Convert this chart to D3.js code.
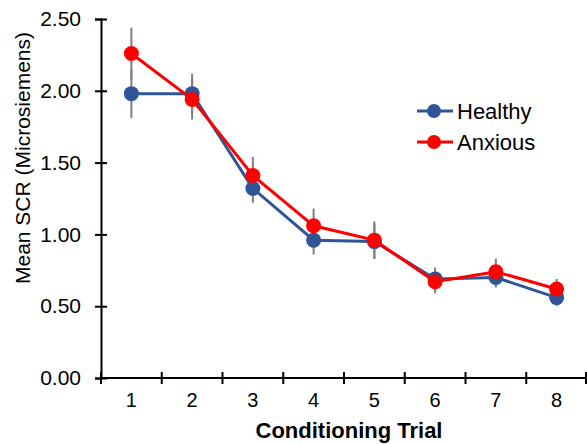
<!DOCTYPE html>
<html>
<head>
<meta charset="utf-8">
<script src="https://d3js.org/d3.v7.min.js"></script>
<style>
  body { margin: 0; background: #fff; }
  svg text { font-family: Arial, "Liberation Sans", sans-serif; fill: #000; }
</style>
</head>
<body>
<div id="chart"></div>
<script>
// conditioning trials 1..8
var trials = [1, 2, 3, 4, 5, 6, 7, 8];
var healthy = [1.98, 1.98, 1.32, 0.96, 0.95, 0.69, 0.70, 0.56];
var healthyErr = [0.17, 0.14, 0.10, 0.10, 0.12, 0.08, 0.07, 0.06];
var anxious = [2.26, 1.94, 1.41, 1.06, 0.96, 0.67, 0.74, 0.62];
var anxiousErr = [0.18, 0.14, 0.13, 0.12, 0.13, 0.08, 0.09, 0.07];
var yTicks = [0, 0.5, 1, 1.5, 2, 2.5];

var series = [
  {name: "Healthy", values: healthy, err: healthyErr, color: "#2F5597"},
  {name: "Anxious", values: anxious, err: anxiousErr, color: "#FF0000"}
];

var width = 587, height = 444;
var margin = {top: 19, right: 0, bottom: 66, left: 101};

var svg = d3.select("#chart").append("svg")
    .attr("width", width)
    .attr("height", height);

var x = d3.scaleBand()
    .domain(trials)
    .range([margin.left, width - margin.right]);

var y = d3.scaleLinear()
    .domain([0, 2.5])
    .range([height - margin.bottom, margin.top]);

function cx(i) { return x(trials[i]) + x.bandwidth() / 2; }

// y axis, ticks crossing the line
var yAxis = svg.append("g")
    .attr("transform", "translate(" + margin.left + ",0)")
    .call(d3.axisLeft(y).tickValues(yTicks).tickFormat(d3.format(".2f")).tickSize(6).tickPadding(14));
yAxis.select(".domain").attr("stroke", "#000").attr("stroke-width", 2);
yAxis.selectAll(".tick line").attr("x2", 6).attr("x1", -6).attr("stroke-width", 2);
yAxis.selectAll(".tick text").style("font-size", "21px");

// x axis with boundary ticks
var xg = svg.append("g")
    .attr("transform", "translate(0," + y(0) + ")");
xg.append("line")
    .attr("x1", margin.left).attr("x2", width)
    .attr("stroke", "#000").attr("stroke-width", 2);
var bounds = trials.map(function(t) { return x(t); }).concat([x(trials[trials.length - 1]) + x.bandwidth()]);
xg.selectAll("line.tk").data(bounds).enter().append("line")
    .attr("class", "tk")
    .attr("x1", function(d) { return Math.min(d, width - 1); })
    .attr("x2", function(d) { return Math.min(d, width - 1); })
    .attr("y1", -6).attr("y2", 6)
    .attr("stroke", "#000").attr("stroke-width", 2);
xg.selectAll("text").data(trials).enter().append("text")
    .attr("x", function(d, i) { return cx(i); })
    .attr("y", 29)
    .attr("text-anchor", "middle")
    .style("font-size", "20px")
    .text(function(d) { return d; });

// axis titles
svg.append("text")
    .attr("x", (margin.left + width) / 2 + 5)
    .attr("y", 438)
    .attr("text-anchor", "middle")
    .style("font-size", "22px")
    .style("font-weight", "bold")
    .text("Conditioning Trial");

svg.append("text")
    .attr("transform", "translate(30,158) rotate(-90)")
    .attr("text-anchor", "middle")
    .style("font-size", "21px")
    .text("Mean SCR (Microsiemens)");

// error bars behind the lines
series.forEach(function(s) {
  svg.append("g").selectAll("line").data(s.values).enter().append("line")
      .attr("x1", function(d, i) { return cx(i); })
      .attr("x2", function(d, i) { return cx(i); })
      .attr("y1", function(d, i) { return y(d + s.err[i]); })
      .attr("y2", function(d, i) { return y(d - s.err[i]); })
      .attr("stroke", "#7f7f7f")
      .attr("stroke-width", 2);
});

var line = d3.line()
    .x(function(d, i) { return cx(i); })
    .y(function(d) { return y(d); });

series.forEach(function(s) {
  var g = svg.append("g");
  g.append("path")
      .datum(s.values)
      .attr("d", line)
      .attr("fill", "none")
      .attr("stroke", s.color)
      .attr("stroke-width", 3);
  g.selectAll("circle").data(s.values).enter().append("circle")
      .attr("cx", function(d, i) { return cx(i); })
      .attr("cy", function(d) { return y(d); })
      .attr("r", 7.5)
      .attr("fill", s.color);
});

// legend
var legend = svg.append("g").attr("transform", "translate(417,111)");
var item = legend.selectAll("g").data(series).enter().append("g")
    .attr("transform", function(d, i) { return "translate(0," + i * 31 + ")"; });
item.append("line")
    .attr("x1", 0).attr("x2", 36)
    .attr("stroke", function(d) { return d.color; })
    .attr("stroke-width", 3);
item.append("circle")
    .attr("cx", 17).attr("r", 7)
    .attr("fill", function(d) { return d.color; });
item.append("text")
    .attr("x", 40)
    .attr("dy", "0.35em")
    .style("font-size", "22px")
    .text(function(d) { return d.name; });
</script>
</body>
</html>
